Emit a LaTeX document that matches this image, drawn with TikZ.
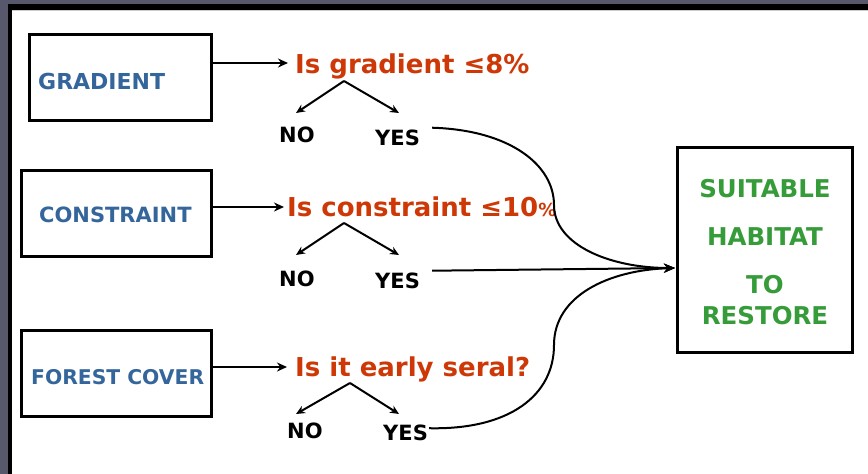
\documentclass[tikz,border=0pt]{standalone}
\usepackage{fontspec}
\setmainfont{DejaVu Sans}
\usetikzlibrary{arrows.meta}
\definecolor{qblue}{RGB}{52,102,156}
\definecolor{qorange}{RGB}{206,56,6}
\definecolor{qgreen}{RGB}{54,156,58}
\definecolor{framegray}{RGB}{88,88,108}
\begin{document}
\begin{tikzpicture}[x=1pt,y=-1pt,
  inbox/.style={draw=black, line width=3pt, inner sep=0pt, minimum height=86pt},
  boxtxt/.style={text=qblue, inner sep=0pt, anchor=base west},
  question/.style={text=qorange, inner sep=0pt, anchor=base west, font=\bfseries\fontsize{26}{30}\selectfont},
  answer/.style={text=black, inner sep=0pt, anchor=base west, font=\bfseries\fontsize{21}{25}\selectfont},
  goaltxt/.style={text=qgreen, inner sep=0pt, anchor=base, font=\bfseries\fontsize{24.5}{28}\selectfont},
  arr/.style={line width=2pt, -{Stealth[length=10pt,width=9pt]}},
  branch/.style={line width=2pt, -{Stealth[length=9pt,width=8pt]}},
  link/.style={line width=2pt, -{Stealth[length=11pt,width=9pt]}}]
\useasboundingbox (0,0) rectangle (868,474);
\fill[white] (-20,-20) rectangle (900,500);
% frame
\fill[framegray] (-20,-20) rectangle (900,4);
\fill[framegray] (-20,-20) rectangle (8,500);
\fill[black] (8,4) rectangle (900,10);
\fill[black] (8,4) rectangle (12,500);
\draw[gray!40, line width=0.8pt] (12,10.5) -- (900,10.5);

% input boxes
\node[inbox, minimum width=182pt] (gbox) at (120.5,77.5) {};
\node[inbox, minimum width=190pt] (cbox) at (116.5,213.5) {};
\node[inbox, minimum width=190pt] (fbox) at (116.5,373.5) {};
\node[boxtxt, font=\bfseries\fontsize{22}{26}\selectfont] (gtxt) at (38,89) {GRADIENT};
\node[boxtxt, font=\bfseries\fontsize{21}{25}\selectfont] (ctxt) at (39,222) {CONSTRAINT};
\node[boxtxt, font=\bfseries\fontsize{20.3}{24}\selectfont] (ftxt) at (31,384) {FOREST COVER};

% goal box
\node[draw=black, line width=3pt, minimum width=175pt, minimum height=205pt, inner sep=0pt] (goal) at (765,250) {};
\node[goaltxt] (g1) at (765,197) {SUITABLE};
\node[goaltxt] (g2) at (765,245) {HABITAT};
\node[goaltxt] (g3) at (765,293) {TO};
\node[goaltxt] (g4) at (765,324) {RESTORE};
\coordinate (conv) at (675,268);

% questions
\node[question] (q1) at (295,73) {Is gradient ≤8\%};
\node[question] (q2) at (287,216) {Is constraint ≤10{\fontsize{18}{20}\selectfont\%}};
\node[question] (q3) at (295,376) {Is it early seral?};
\coordinate (q1in) at (288,63);
\coordinate (q2in) at (284,207);
\coordinate (q3in) at (287,367);
\draw[arr] (gbox.east |- q1in) -- (q1in);
\draw[arr] (cbox.east |- q2in) -- (q2in);
\draw[arr] (fbox.east |- q3in) -- (q3in);

% answers
\node[answer] (no1) at (279,142) {NO};
\node[answer] (yes1) at (375,145) {YES};
\node[answer] (no2) at (279,286) {NO};
\node[answer] (yes2) at (375,288) {YES};
\node[answer] (no3) at (287,438) {NO};
\node[answer] (yes3) at (383,440) {YES};

% branches
\coordinate (a1) at (344,81);
\coordinate (l1) at (296,113);
\coordinate (r1) at (399,113);
\coordinate (a2) at (344,223);
\coordinate (l2) at (296,255);
\coordinate (r2) at (399,255);
\coordinate (a3) at (350,383);
\coordinate (l3) at (296,414);
\coordinate (r3) at (399,414);
\draw[branch] (a1) -- (l1);
\draw[branch] (a1) -- (r1);
\draw[branch] (a2) -- (l2);
\draw[branch] (a2) -- (r2);
\draw[branch] (a3) -- (l3);
\draw[branch] (a3) -- (r3);

% links to goal
\draw[link] ([xshift=12pt,yshift=1.5pt]yes1.north east)
  .. controls (510,130) and (554,165) .. (554,205)
  .. controls (554,245) and (610,268) .. (conv);
\draw[link] ([xshift=12pt,yshift=1.5pt]yes2.north east) -- (conv);
\draw[link] ([xshift=1pt,yshift=-4pt]yes3.north east)
  .. controls (510,430) and (554,395) .. (554,345)
  .. controls (554,295) and (610,270) .. (conv);
\end{tikzpicture}
\end{document}
